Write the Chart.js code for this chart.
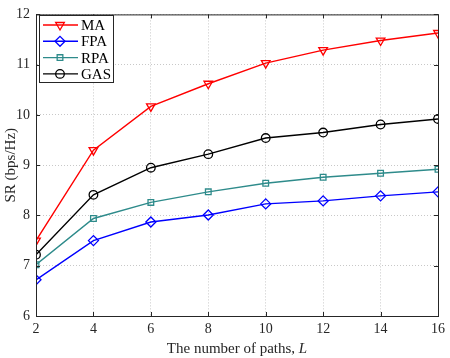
<!DOCTYPE html>
<html>
<head>
<meta charset="utf-8">
<script src="https://cdn.jsdelivr.net/npm/chart.js@4"></script>
<style>
  html, body { margin: 0; padding: 0; background: #fff; }
  #wrap { width: 450px; height: 358px; }
</style>
</head>
<body>
<div id="wrap"><canvas id="srChart" width="450" height="358"></canvas></div>
<script>
const paths = [2, 4, 6, 8, 10, 12, 14, 16];
const maValues = [7.5, 9.3, 10.17, 10.62, 11.03, 11.29, 11.48, 11.63];
const fpaValues = [6.72, 7.5, 7.87, 8.01, 8.23, 8.29, 8.39, 8.47];
const rpaValues = [7.02, 7.94, 8.26, 8.47, 8.64, 8.76, 8.84, 8.92];
const gasValues = [7.22, 8.41, 8.95, 9.22, 9.54, 9.65, 9.81, 9.92];
const seriesNames = ["MA", "FPA", "RPA", "GAS"];
const yTicks = [6, 7, 8, 9, 10, 11, 12];

const serif = "'Liberation Serif', 'Times New Roman', serif";

function toPoints(vals) {
  return paths.map((x, i) => ({ x: x, y: vals[i] }));
}

function makeSet(label, vals, color, style, radius, rot) {
  return {
    label: label,
    data: toPoints(vals),
    borderColor: color,
    backgroundColor: "rgba(0,0,0,0)",
    pointBorderColor: color,
    pointBackgroundColor: "rgba(0,0,0,0)",
    pointStyle: style,
    pointRotation: rot || 0,
    pointRadius: radius,
    pointBorderWidth: 1.3,
    borderWidth: 1.4,
    tension: 0
  };
}

// box, inward ticks, legend, x title with italic L
const decorations = {
  id: "decorations",
  afterDraw(chart) {
    const ctx = chart.ctx;
    const a = chart.chartArea;
    const xs = chart.scales.x, ys = chart.scales.y;
    ctx.save();
    ctx.strokeStyle = "#262626";
    ctx.lineWidth = 1;
    ctx.strokeRect(a.left + 0.5, a.top + 0.5, a.right - a.left, a.bottom - a.top);

    ctx.beginPath();
    paths.forEach(v => {
      const px = Math.round(xs.getPixelForValue(v)) + 0.5;
      ctx.moveTo(px, a.bottom); ctx.lineTo(px, a.bottom - 4);
      ctx.moveTo(px, a.top); ctx.lineTo(px, a.top + 4);
    });
    yTicks.forEach(v => {
      const py = Math.round(ys.getPixelForValue(v)) + 0.5;
      ctx.moveTo(a.left, py); ctx.lineTo(a.left + 4, py);
      ctx.moveTo(a.right, py); ctx.lineTo(a.right - 4, py);
    });
    ctx.stroke();

    // legend
    const bx = 39.5, by = 15.5, bw = 74, bh = 67;
    ctx.fillStyle = "#fff";
    ctx.fillRect(bx, by, bw, bh);
    ctx.strokeStyle = "#262626";
    ctx.strokeRect(bx, by, bw, bh);
    ctx.textBaseline = "middle";
    chart.data.datasets.forEach((ds, i) => {
      const y = 25 + i * 16.3;
      ctx.strokeStyle = ds.borderColor;
      ctx.lineWidth = ds.borderWidth;
      ctx.beginPath();
      ctx.moveTo(43, y); ctx.lineTo(78, y);
      ctx.stroke();
      ctx.fillStyle = "rgba(0,0,0,0)";
      ctx.lineWidth = ds.pointBorderWidth;
      Chart.helpers.drawPoint(ctx, {
        pointStyle: ds.pointStyle,
        rotation: ds.pointRotation,
        radius: ds.pointRadius,
        borderWidth: ds.pointBorderWidth
      }, 60, y);
      ctx.fillStyle = "#000";
      ctx.font = "15px " + serif;
      ctx.fillText(ds.label, 81, y + 1);
    });

    // x title
    const plain = "The number of paths, ";
    ctx.font = "15px " + serif;
    const w1 = ctx.measureText(plain).width;
    ctx.font = "italic 15px " + serif;
    const w2 = ctx.measureText("L").width;
    const cx = (a.left + a.right) / 2;
    const x0 = cx - (w1 + w2) / 2;
    ctx.fillStyle = "#262626";
    ctx.textBaseline = "alphabetic";
    ctx.font = "15px " + serif;
    ctx.fillText(plain, x0, 353);
    ctx.font = "italic 15px " + serif;
    ctx.fillText("L", x0 + w1, 353);
    ctx.restore();
  }
};

const ctx = document.getElementById("srChart").getContext("2d");

new Chart(ctx, {
  type: "line",
  data: {
    datasets: [
      makeSet(seriesNames[0], maValues, "#ff0000", "triangle", 5, 180),
      makeSet(seriesNames[1], fpaValues, "#0000ff", "rectRot", 5),
      makeSet(seriesNames[2], rpaValues, "#2e8b8b", "rect", 4),
      makeSet(seriesNames[3], gasValues, "#000000", "circle", 4.3)
    ]
  },
  options: {
    responsive: false,
    animation: false,
    devicePixelRatio: 1,
    layout: { padding: { top: 4, right: 8, left: 2, bottom: 0 } },
    plugins: {
      legend: { display: false },
      tooltip: { enabled: false }
    },
    scales: {
      x: {
        type: "linear",
        min: 2,
        max: 16,
        afterBuildTicks: s => { s.ticks = paths.map(v => ({ value: v })); },
        afterFit: s => { s.height = 42; },
        grid: { color: "#c8c8c8", tickLength: 0, drawTicks: false },
        border: { color: "#262626", dash: [1, 2] },
        ticks: {
          padding: 5,
          color: "#262626",
          font: { family: serif, size: 14 },
          maxRotation: 0
        }
      },
      y: {
        min: 6,
        max: 12,
        afterBuildTicks: s => { s.ticks = yTicks.map(v => ({ value: v })); },
        afterFit: s => { s.width = 34; },
        grid: { color: "#c8c8c8", tickLength: 0, drawTicks: false },
        border: { color: "#262626", dash: [1, 2] },
        title: {
          display: true,
          text: "SR (bps/Hz)",
          color: "#262626",
          font: { family: serif, size: 15 },
          padding: 0
        },
        ticks: {
          padding: 6,
          color: "#262626",
          font: { family: serif, size: 14 }
        }
      }
    }
  },
  plugins: [decorations]
});
</script>
</body>
</html>
